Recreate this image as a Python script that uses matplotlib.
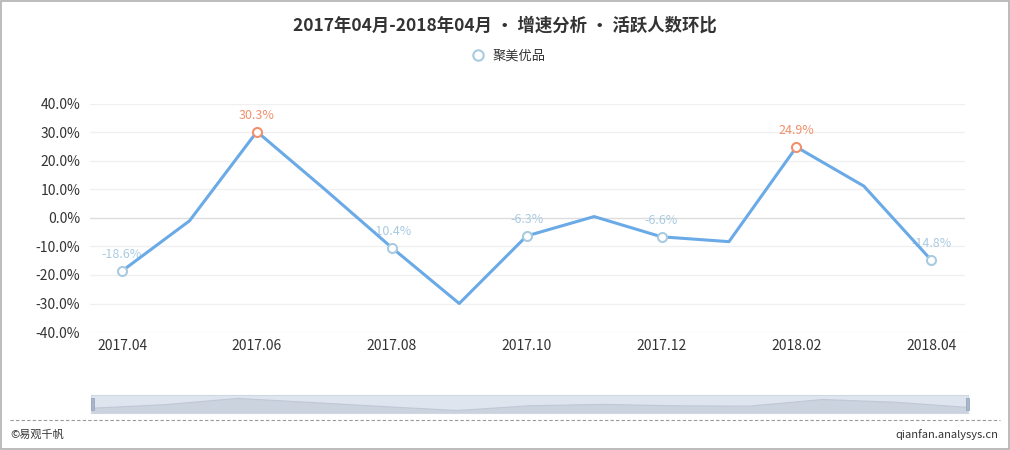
import numpy as np
import matplotlib.pyplot as plt
from matplotlib.patches import Rectangle
from matplotlib.lines import Line2D

plt.rcParams['font.family'] = ['Noto Sans CJK SC', 'DejaVu Sans']

# donnees
mois = ['2017.04', '2017.05', '2017.06', '2017.07', '2017.08', '2017.09', '2017.10',
        '2017.11', '2017.12', '2018.01', '2018.02', '2018.03', '2018.04']
valeurs = [-18.6, -1.0, 30.3, 10.2, -10.4, -30.0, -6.3, 0.5, -6.6, -8.3, 24.9, 11.2, -14.8]
idx_labels = [0, 2, 4, 6, 8, 10, 12]
idx_max = [2, 10]
ticks_y = [-40, -30, -20, -10, 0, 10, 20, 30, 40]

titre = '2017年04月-2018年04月 • 增速分析 • 活跃人数环比'
serie = '聚美优品'

bleu = '#6aaae6'
bleu_clair = '#a9cbe0'
orange = '#f0906c'

fig = plt.figure(figsize=(10.1, 4.5), dpi=100)
fig.patches.append(Rectangle((0.001, 0.002), 0.998, 0.996, transform=fig.transFigure,
                             fill=False, edgecolor='#b0b0b0', linewidth=1.2))

ax = fig.add_axes([90/1010, 1-332/450, 875/1010, 228/450])
x = np.arange(len(mois))
ax.plot(x, valeurs, color=bleu, linewidth=2.2, zorder=3)

for i in idx_labels:
    c = orange if i in idx_max else bleu_clair
    ax.plot(x[i], valeurs[i], 'o', markersize=6.5, markerfacecolor='white',
            markeredgecolor=c, markeredgewidth=1.5, zorder=4)
    ax.annotate('%.1f%%' % valeurs[i], (x[i], valeurs[i]), xytext=(0, 7),
                textcoords='offset points', ha='center', va='bottom',
                color=c, fontsize=9, zorder=2)

ax.set_xlim(-0.475, 12.5)
ax.set_ylim(-40, 40)
ax.set_yticks(ticks_y)
ax.set_yticklabels(['%.1f%%' % v for v in ticks_y])
ax.set_xticks(x[::2])
ax.set_xticklabels(mois[::2])
for v in ticks_y:
    ax.axhline(v, color='#dddddd' if v == 0 else '#f0f0f0', linewidth=1, zorder=1)
for s in ax.spines.values():
    s.set_visible(False)
ax.tick_params(length=0, labelsize=10, colors='#333333', pad=7)
ax.tick_params(axis='x', pad=5)

fig.text(0.5, 1-26/450, titre, ha='center', va='center', fontsize=12.5,
         fontweight='bold', color='#333333')
fig.legend(handles=[Line2D([], [], linestyle='none', marker='o', markersize=7.5,
                           markerfacecolor='white', markeredgecolor=bleu_clair, markeredgewidth=1.5)],
           labels=[serie], loc='center', bbox_to_anchor=(0.5, 1-56/450), frameon=False,
           fontsize=9.5, handletextpad=0.1, labelcolor='#333333')

# barre de zoom en bas
axz = fig.add_axes([91/1010, 1-413/450, 877/1010, 18/450])
axz.set_facecolor('#dfe5ef')
axz.fill_between(x, valeurs, -45, color='#cbd3df', linewidth=0.8, edgecolor='#c0c8d6')
axz.set_xlim(0, 12)
axz.set_ylim(-45, 45)
axz.set_xticks([])
axz.set_yticks([])
for s in axz.spines.values():
    s.set_color('#d0d8e4')
for xh in [91, 966]:
    fig.patches.append(Rectangle((xh/1010, 1-410/450), 3/1010, 12/450,
                                 transform=fig.transFigure, facecolor='#a8b8cc', edgecolor='#90a0b8',
                                 linewidth=0.5))

fig.add_artist(Line2D([10/1010, 1000/1010], [1-420/450, 1-420/450], color='#999999',
                      linewidth=0.8, linestyle=(0, (3, 2))))
fig.text(10/1010, 1-435/450, '©易观千帆', ha='left', va='center', fontsize=8, color='#333333')
fig.text(998/1010, 1-435/450, 'qianfan.analysys.cn', ha='right', va='center', fontsize=8,
         color='#333333')

plt.savefig('out.png', dpi=100)
